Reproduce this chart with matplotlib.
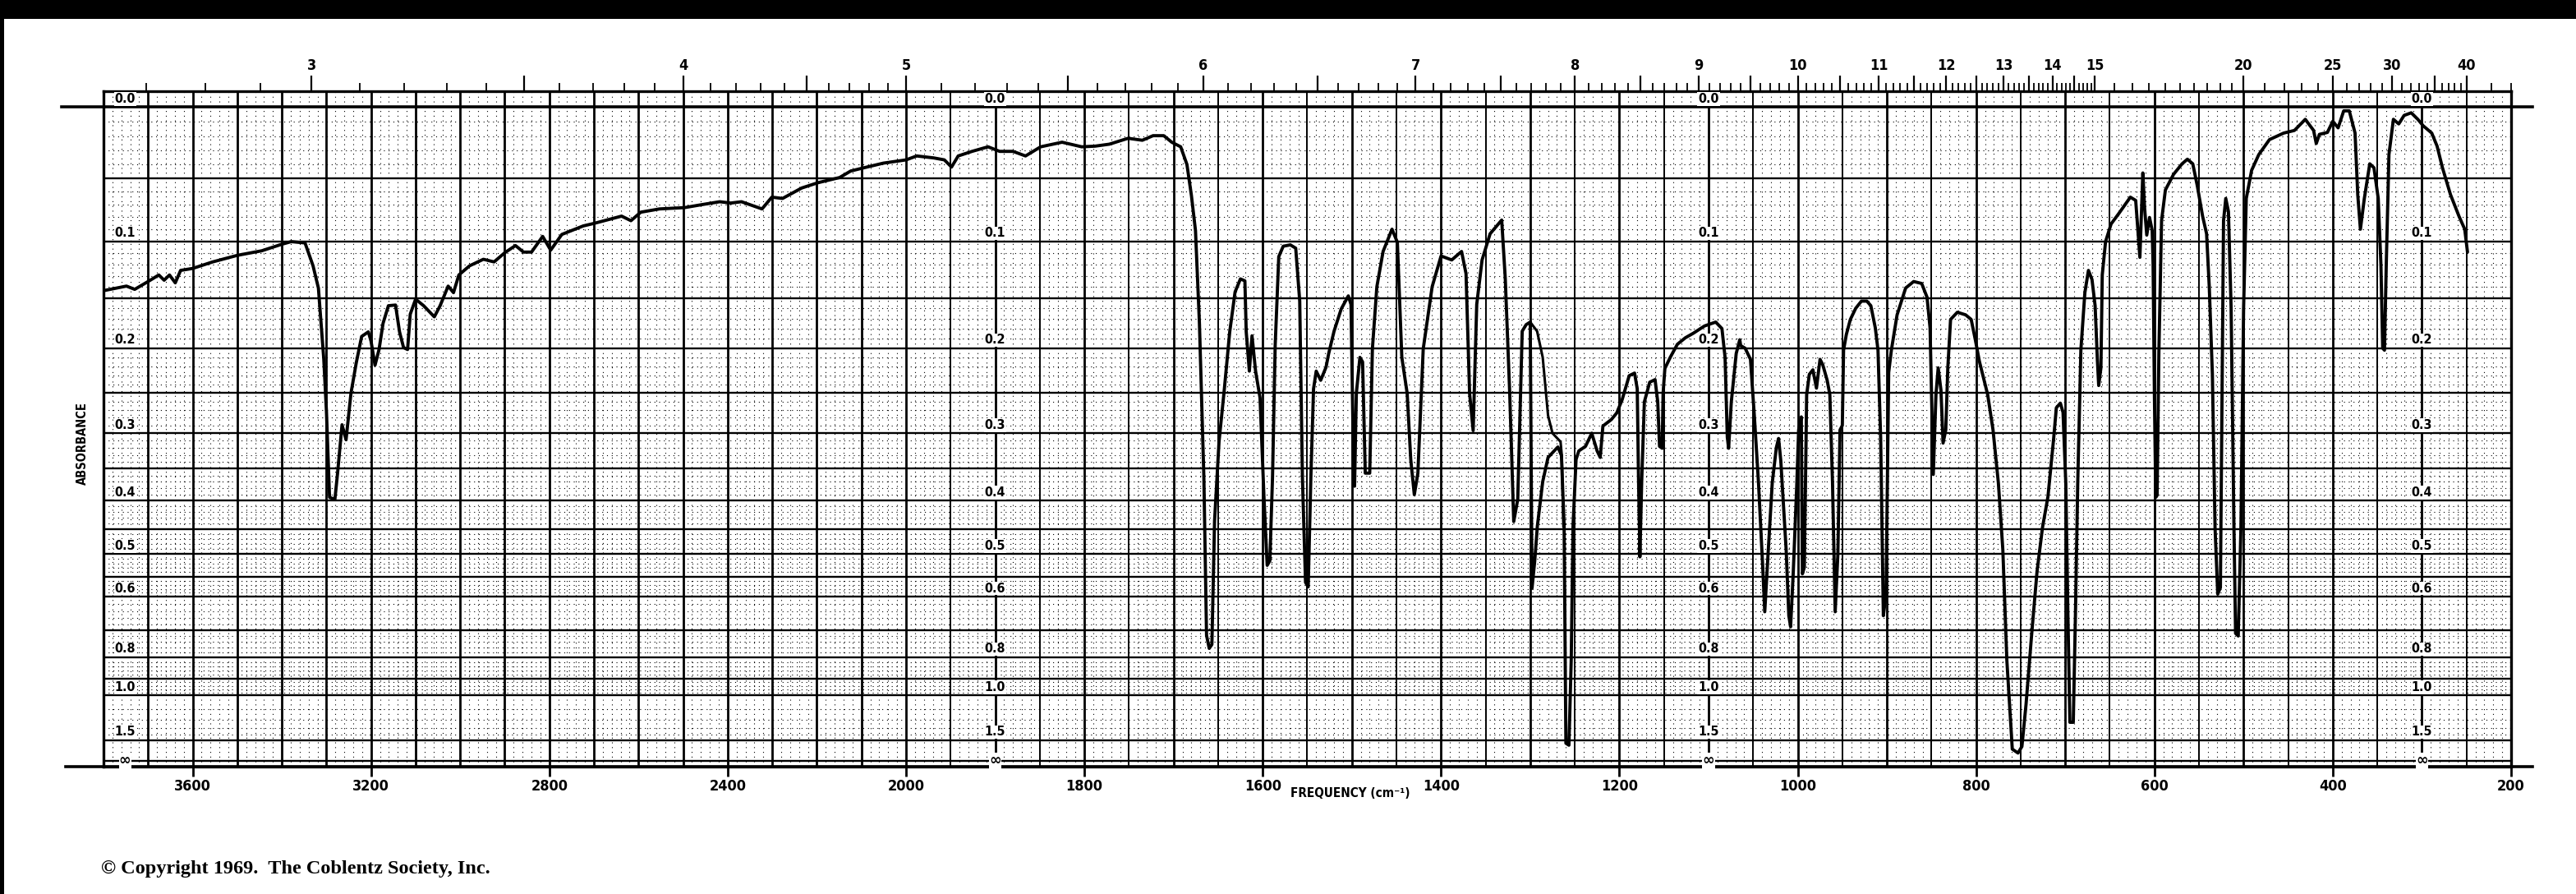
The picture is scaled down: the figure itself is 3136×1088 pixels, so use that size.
import numpy as np
import matplotlib
matplotlib.use("Agg")
import matplotlib.pyplot as plt
from matplotlib.ticker import FixedLocator, FixedFormatter, NullFormatter
from matplotlib.patches import Rectangle

# ---------------- data ----------------
# main recorded trace: wavenumber (cm-1) and transmittance (%)
wavenumber = [
    3800, 3748.5, 3730, 3700, 3676, 3664, 3652, 3639, 3627, 3600, 3555, 3500, 3445, 3400, 3379, 3348,
    3330, 3318, 3306, 3300, 3293, 3281, 3275, 3265, 3256, 3245, 3233, 3221, 3206, 3200, 3191, 3182,
    3173, 3161, 3145, 3136, 3127, 3118, 3112, 3100, 3082, 3058, 3045, 3027, 3015, 3003, 2979, 2948,
    2924, 2900, 2876, 2858, 2840, 2815, 2797, 2772, 2724, 2699, 2638, 2617, 2595, 2553, 2497, 2454,
    2418, 2393, 2369, 2344, 2323, 2301, 2277, 2234, 2198, 2149, 2124, 2100, 2051, 2000,
    1988, 1969, 1957, 1949, 1941.5, 1926, 1908, 1895, 1880, 1866, 1849, 1825, 1803, 1788, 1772, 1751,
    1735, 1723, 1711, 1702, 1692, 1685, 1680, 1675.4, 1671, 1666, 1663, 1660, 1657, 1654, 1649, 1643,
    1637, 1631, 1625, 1620, 1618.5, 1615, 1612, 1608, 1603, 1598.5, 1595, 1592, 1589, 1586, 1582, 1577,
    1569, 1563, 1558.5, 1555.5, 1552, 1549, 1546, 1543, 1540, 1535, 1529,
    1526, 1520, 1512, 1504, 1501, 1498, 1497, 1495, 1491, 1488, 1485, 1480, 1477, 1472, 1465, 1455,
    1449, 1444, 1438, 1434, 1430, 1426, 1420, 1410, 1400, 1388, 1377, 1372, 1368, 1364, 1360, 1354,
    1345, 1332, 1328, 1323, 1318.5, 1314, 1309, 1304.6, 1300, 1298, 1295, 1292, 1286, 1280, 1269, 1265,
    1262, 1260, 1256.6, 1254, 1252, 1248.6, 1245.5, 1238, 1231, 1225, 1221.5, 1218.5, 1209, 1203, 1197,
    1189, 1183, 1180, 1178.5, 1177, 1175, 1172, 1166, 1160, 1157, 1155, 1152, 1151, 1149, 1143, 1135,
    1126, 1117, 1104.6, 1092, 1085, 1081.5, 1079, 1077.5, 1074.5, 1069, 1065,
    1064, 1059, 1053, 1048.6, 1044, 1039, 1037, 1033, 1028.6, 1024, 1021.5, 1019, 1016, 1013, 1010,
    1008, 1005, 1001, 999, 996, 994.8, 992.6, 990, 987, 983, 979, 975, 972, 967, 964, 961, 958, 955,
    952.6, 950, 948.6, 945.5, 941, 935, 928.6, 922.5, 918, 913, 910, 907, 904, 901, 898, 895, 888.6,
    879, 870, 861, 855, 851.6, 848, 845, 842.5, 839.4, 837, 834, 831.7, 828.6, 821, 811.7, 805.5, 801,
    796.3, 787, 781, 775, 770, 765.5, 759.4, 753, 748.6, 744, 738, 731.7, 725.5, 719.4, 713, 710,
    705.5, 702.5, 699.4, 697, 694.8, 691, 688.6, 686, 682.5, 678, 674, 670, 666.5, 664, 662.5, 660,
    658.5, 654.8, 648.6, 639.4, 627, 621, 618.5, 616.3, 613, 611, 608.6, 605.5, 602.5,
    601.5, 600, 598.5, 597, 595, 592, 587.7, 578.5, 569, 563, 557, 552, 546, 541.5, 538.5, 535, 532,
    529, 526, 524.6, 522.5, 520, 517, 514, 510.8, 509, 506, 503, 500, 497, 491, 483, 471, 455, 443,
    430.8, 421.5, 418.5, 415, 406, 400, 394, 387.7, 381.5, 375, 372, 369, 364.6, 358.5, 353.8, 349,
    346, 344, 342, 340, 337, 332, 326, 320, 312, 304.6, 298.5, 289, 283, 277, 268, 258.5, 252, 249,
]
transmittance = [
    71.9, 72.6, 72.1, 73.3, 74.3, 73.5, 74.3, 73.1, 75.0, 75.3, 76.3, 77.3, 78.0, 79.0, 79.4, 79.2,
    75.7, 72.3, 61.5, 53.5, 40.3, 40.0, 44.0, 51.4, 49.1, 56.2, 60.9, 64.9, 65.6, 64.2, 60.5, 62.9,
    66.9, 69.6, 69.7, 65.6, 63.2, 62.9, 68.3, 70.6, 69.6, 67.9, 69.6, 72.6, 71.6, 74.3, 75.7, 76.7,
    76.3, 77.7, 78.8, 77.8, 77.8, 80.2, 78.1, 80.5, 81.8, 82.2, 83.3, 82.6, 83.9, 84.4, 84.6, 85.1,
    85.5, 85.3, 85.5, 84.9, 84.4, 86.2, 86.0, 87.6, 88.4, 89.2, 90.2, 90.6, 91.4, 91.9,
    92.5, 92.2, 91.9, 90.8, 92.5, 93.2, 93.9, 93.2, 93.2, 92.5, 93.9, 94.6, 93.9, 94.0, 94.3, 95.2,
    94.9, 95.6, 95.6, 94.6, 93.9, 91.2, 86.5, 81.1, 67.0, 43.4, 19.2, 17.2, 17.8, 36.7, 48.8, 56.9,
    65.6, 71.7, 73.7, 73.4, 65.6, 59.6, 65.0, 59.6, 55.5, 40.0, 29.9, 30.6, 43.4, 63.6, 77.1, 78.7,
    78.9, 78.4, 70.3, 43.4, 27.3, 26.6, 43.4, 56.9, 59.6, 58.2, 60.2,
    62.3, 65.7, 69.1, 71.1, 69.8, 44.0, 42.0, 56.2, 61.7, 61.0, 44.0, 44.0, 63.0, 72.5, 77.9, 81.3,
    79.3, 61.7, 56.2, 46.1, 40.7, 44.0, 63.0, 72.5, 77.2, 76.6, 77.9, 74.5, 56.2, 50.5, 69.8, 76.6,
    80.6, 82.7, 73.8, 56.2, 36.6, 40.0, 65.7, 66.7, 67.1, 26.4, 30.5, 35.9, 42.7, 46.4, 48.0, 46.7,
    35.9, 2.7, 2.4, 15.6, 35.9, 46.1, 47.4, 48.1, 50.1, 47.4, 46.4, 51.2, 52.2, 53.2, 55.2,
    58.9, 59.3, 56.9, 42.7, 31.2, 42.7, 54.9, 57.9, 58.3, 54.9, 48.1, 47.8, 56.2, 60.0, 61.7, 63.7,
    64.7, 65.4, 66.5, 67.1, 66.1, 61.7, 49.5, 47.8, 54.9, 62.3, 64.4,
    63.5, 63.1, 61.4, 52.6, 42.5, 28.9, 22.8, 32.3, 42.5, 47.9, 49.3, 45.9, 39.1, 32.3, 22.2,
    20.5, 28.9, 42.5, 50.6, 52.6, 28.6, 29.6, 56.0, 59.1, 59.8, 57.0, 61.4, 60.6, 58.2, 56.0, 42.5, 22.8, 31.6,
    50.6, 51.3, 62.8, 65.2, 67.5, 69.2, 70.3, 70.3, 69.6, 66.2, 62.8, 49.3, 22.2, 25.5, 59.4, 62.8, 68.2,
    72.3, 73.3, 73.0, 70.9, 66.2, 43.8, 56.0, 60.1, 56.7, 48.6, 50.6, 60.1, 67.5, 68.6, 68.2, 67.5, 64.5,
    61.1, 56.0, 50.6, 42.5, 32.3, 15.4, 1.8, 1.2, 2.2, 8.6, 18.8, 28.9, 35.7, 40.4, 49.3, 54.0,
    54.7, 53.3, 42.5, 22.2, 5.9, 5.9, 22.2, 42.5, 62.8, 71.6, 75.0, 73.6, 69.6, 61.4, 57.4, 60.1,
    74.3, 79.4, 82.1, 83.8, 86.2, 85.7, 81.1, 77.0, 89.9, 84.5, 80.4, 83.1, 81.1,
    75.9, 55.7, 40.3, 40.6, 62.5, 82.6, 87.3, 89.7, 91.3, 92.0, 91.3, 88.0, 83.3, 80.6, 72.5, 59.1, 35.6,
    25.5, 26.5, 49.0, 82.6, 86.0, 84.0, 69.2, 35.6, 19.5, 19.1, 35.6, 69.2, 86.0, 90.3, 92.7, 95.0, 96.0, 96.4,
    98.1, 96.4, 94.4, 95.8, 96.1, 97.8, 96.8, 99.4, 99.4, 96.0, 86.6, 81.3, 86.0, 91.3, 90.7, 86.0,
    75.9, 63.1, 62.8, 75.9, 92.7, 98.1, 97.4, 98.7, 99.1, 98.1, 97.1, 96.0, 94.0, 90.7, 86.6, 83.3, 81.3, 77.9,
]
# second pen stroke over the 1300-1262 cm-1 region
retrace_wavenumber = [1300, 1292.3, 1286, 1280, 1275, 1266, 1264.6, 1262.8]
retrace_transmittance = [67.1, 65.7, 61.7, 52.8, 50.1, 48.8, 46.7, 35.9]

freq_ticks = [3600, 3200, 2800, 2400, 2000, 1800, 1600, 1400, 1200, 1000, 800, 600, 400, 200]
micron_labels = [3, 4, 5, 6, 7, 8, 9, 10, 11, 12, 13, 14, 15, 20, 25, 30, 40]
absorbance_levels = [0.0, 0.1, 0.2, 0.3, 0.4, 0.5, 0.6, 0.8, 1.0, 1.5]
absorbance_texts = ["0.0", "0.1", "0.2", "0.3", "0.4", "0.5", "0.6", "0.8", "1.0", "1.5"]
label_columns = [3752, 1900, 1100, 300]

# ---------------- figure ----------------
plt.rcParams["font.family"] = ["DejaVu Sans Condensed", "Liberation Sans Narrow", "DejaVu Sans"]
plt.rcParams["font.stretch"] = "condensed"
plt.rcParams["font.weight"] = "bold"

W, H = 3136, 1088
fig = plt.figure(figsize=(W / 100, H / 100), dpi=100)
fig.patch.set_facecolor("white")

box_l, box_r, box_t, box_b = 126, 3057, 111, 933
ax = fig.add_axes([box_l / W, 1 - box_b / H, (box_r - box_l) / W, (box_b - box_t) / H])


def fwd(nu):
    nu = np.asarray(nu, dtype=float)
    return np.where(nu > 2000, 2000 + (nu - 2000) / 2.0, nu)


def inv(u):
    u = np.asarray(u, dtype=float)
    return np.where(u > 2000, 2000 + (u - 2000) * 2.0, u)


ax.set_xscale("function", functions=(fwd, inv))
ax.set_xlim(3800, 200)
ylo, yhi = -0.0088, 1.024
ax.set_ylim(ylo, yhi)


def A2T(a):
    return 10.0 ** (-a)


dots = (0, (1.0, 4.2))
# ---- grid: minor dotted ----
minor_v = [v for v in np.arange(3800, 2000, -20) if v % 100 != 0] + \
          [v for v in np.arange(2000, 200, -10) if v % 50 != 0]
ax.vlines(minor_v, ylo, yhi, colors="k", linewidth=0.8, linestyles=dots, zorder=1)
minor_a = [a for a in np.round(np.arange(0.01, 0.6, 0.01), 3) if round(a * 100) % 5 != 0] + \
          list(np.round(np.arange(0.62, 1.0, 0.02), 3)) + [1.1, 1.2, 1.3, 1.4]
minor_a = [a for a in minor_a if round(a * 100) % 10 != 0 or a > 1.0]
ax.hlines([A2T(a) for a in minor_a], 3800, 200, colors="k", linewidth=0.8,
          linestyles=dots, zorder=1)

# ---- grid: major solid ----
major_a = list(np.round(np.arange(0.05, 0.61, 0.05), 3)) + [0.7, 0.8, 0.9, 1.0, 1.5]
ax.hlines([A2T(a) for a in major_a] + [0.0], 3800, 200, colors="k", linewidth=1.7, zorder=2)
maj100 = list(np.arange(3700, 200, -100))
maj50 = list(np.arange(1950, 200, -100))
ax.vlines(maj100, ylo, yhi, colors="k", linewidth=2.0, zorder=2)
ax.vlines(maj50, ylo, yhi, colors="k", linewidth=1.4, zorder=2)

# 0.0 line and bottom line extend past the box
ax.plot([-0.0174, 1.0089], [1.0, 1.0], transform=ax.get_yaxis_transform(),
        color="k", lw=2.6, clip_on=False, zorder=3)
ax.plot([-0.0158, 1.0089], [0, 0], transform=ax.transAxes,
        color="k", lw=2.6, clip_on=False, zorder=3)

# ---- absorbance labels inside the chart ----
for col in label_columns:
    for a, txt in zip(absorbance_levels, absorbance_texts):
        ax.text(col, A2T(a) + 0.003, txt, ha="center", va="bottom", fontsize=11.5,
                fontweight="bold", zorder=4,
                bbox=dict(facecolor="white", edgecolor="none", pad=0.6))
    ax.text(col, 0.0, "\u221e", ha="center", va="center", fontsize=14, fontweight="bold",
            zorder=4, bbox=dict(facecolor="white", edgecolor="none", pad=0.2))

# ---- spectrum ----
ax.plot(wavenumber, np.array(transmittance) / 100.0, color="k", lw=2.8, zorder=6,
        solid_joinstyle="round")
ax.plot(retrace_wavenumber, np.array(retrace_transmittance) / 100.0, color="k", lw=2.2,
        zorder=6)

# ---- axes styling ----
for s in ax.spines.values():
    s.set_linewidth(2.4)
ax.set_yticks([])
ax.set_xticks(freq_ticks)
ax.set_xticklabels([str(v) for v in freq_ticks])
ax.xaxis.set_minor_locator(FixedLocator([]))
ax.tick_params(axis="x", which="major", direction="out", length=8.5, width=2.0, pad=2,
               labelsize=13)

ax.text(1502, -0.040, "FREQUENCY (cm\u207b\u00b9)", transform=ax.get_xaxis_transform(),
        ha="center", va="center", fontsize=11, fontweight="bold")

# ---- top wavelength (micron) scale ----
ax2 = ax.twiny()
ax2.set_xscale("function", functions=(fwd, inv))
ax2.set_xlim(3800, 200)
half_um = [x + 0.5 for x in range(3, 15)] + [35]
major_um = micron_labels + half_um
ax2.xaxis.set_major_locator(FixedLocator([1e4 / u for u in major_um]))
ax2.xaxis.set_major_formatter(FixedFormatter([str(u) for u in micron_labels] + [""] * len(half_um)))
minor_um = [u for u in np.round(np.arange(2.7, 15.0, 0.1), 2) if abs(u * 2 - round(u * 2)) > 1e-6]
minor_um += [15.5, 16, 16.5, 17, 17.5, 18, 18.5, 19, 19.5, 21, 22, 23, 24, 26, 27, 28, 29,
             31, 32, 33, 34, 36, 37, 38, 39, 45, 50]
ax2.xaxis.set_minor_locator(FixedLocator([1e4 / u for u in minor_um]))
ax2.xaxis.set_minor_formatter(NullFormatter())
ax2.tick_params(axis="x", which="major", direction="out", length=14, width=1.6, pad=2,
                labelsize=13)
ax2.tick_params(axis="x", which="minor", direction="out", length=7, width=1.3)
ax2.set_yticks([])
for s in ax2.spines.values():
    s.set_visible(False)

# ---- page texts ----
fig.text(100 / W, 1 - 540 / H, "ABSORBANCE", rotation=90, ha="center", va="center",
         fontsize=10.5, fontweight="bold")
fig.text(123 / W, 1 - 1057 / H, "\u00a9 Copyright 1969.  The Coblentz Society, Inc.",
         ha="left", va="center", fontsize=17.5, fontweight="bold",
         family=["Liberation Serif", "DejaVu Serif"], fontstretch="normal")

# scanned-page black edges
fig.add_artist(Rectangle((0, 1 - 23 / H), 1, 23 / H, transform=fig.transFigure,
                         facecolor="k", edgecolor="none"))
fig.add_artist(Rectangle((0, 0), 5 / W, 1, transform=fig.transFigure,
                         facecolor="k", edgecolor="none"))

fig.savefig("out.png", dpi=100, facecolor="white")
